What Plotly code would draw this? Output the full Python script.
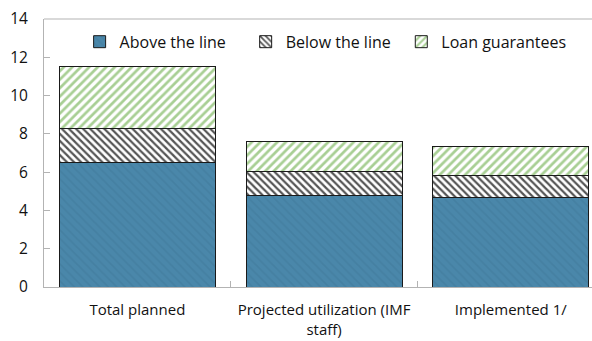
import plotly.graph_objects as go

categories = ["Total planned", "Projected utilization (IMF<br>staff)", "Implemented 1/"]
above_the_line = [6.5, 4.77, 4.70]
below_the_line = [1.8, 1.27, 1.10]
loan_guarantees = [3.2, 1.55, 1.55]
y_ticks = [0, 2, 4, 6, 8, 10, 12, 14]

font_family = "Open Sans, Noto Sans, DejaVu Sans, sans-serif"
text_color = "#111111"
axis_gray = "#b3b3b3"

fig = go.Figure()
fig.add_bar(
    name="Above the line", x=categories, y=above_the_line, legend="legend",
    marker=dict(color="#4a87aa", line=dict(color="#1a1a1a", width=1),
                pattern=dict(shape="\\", fgcolor="#4580a2", bgcolor="#4a87aa",
                             size=6, solidity=0.3, fillmode="replace")),
)
fig.add_bar(
    name="Below the line", x=categories, y=below_the_line, legend="legend2",
    marker=dict(color="white", line=dict(color="#1a1a1a", width=1),
                pattern=dict(shape="\\", fgcolor="#555555", bgcolor="white",
                             size=5, solidity=0.45, fillmode="replace")),
)
fig.add_bar(
    name="Loan guarantees", x=categories, y=loan_guarantees, legend="legend3",
    marker=dict(color="white", line=dict(color="#1a1a1a", width=1),
                pattern=dict(shape="/", fgcolor="#a8cf94", bgcolor="white",
                             size=6, solidity=0.45, fillmode="replace")),
)

legend_style = dict(orientation="h", y=0.915, xanchor="left", yanchor="middle",
                    font=dict(size=16, color=text_color), bgcolor="rgba(0,0,0,0)",
                    itemwidth=30)

fig.update_layout(
    barmode="stack",
    bargap=0.165,
    width=592, height=341,
    margin=dict(l=44, r=0, t=19, b=54),
    paper_bgcolor="white", plot_bgcolor="white",
    font=dict(family=font_family, size=15.5, color=text_color),
    showlegend=True,
    legend=dict(x=0.065, **legend_style),
    legend2=dict(x=0.368, **legend_style),
    legend3=dict(x=0.652, **legend_style),
    shapes=[dict(type="line", xref="paper", yref="paper", x0=0, x1=1, y0=1, y1=1,
                 line=dict(color=axis_gray, width=1))],
)
fig.update_xaxes(
    range=[-0.5, 2.435], showline=True, linecolor=axis_gray, linewidth=1,
    ticks="inside", tickson="boundaries", ticklen=6, tickcolor=axis_gray,
    showgrid=False, ticklabelstandoff=9, automargin=False, tickangle=0,
    tickfont=dict(size=15, color=text_color),
)
fig.update_yaxes(
    range=[0, 14], tickvals=y_ticks, showline=True, linecolor=axis_gray, linewidth=1,
    ticks="inside", ticklen=6, tickcolor=axis_gray, showgrid=False, zeroline=False,
    ticklabelstandoff=12, automargin=False, tickfont=dict(size=15.5, color=text_color),
)

fig.write_html("out.html")
